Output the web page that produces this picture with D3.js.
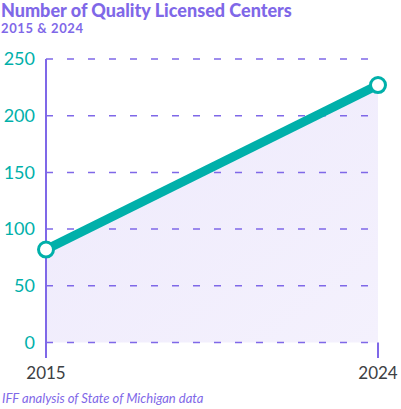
<!DOCTYPE html>
<html><head><meta charset="utf-8">
<script src="https://cdn.jsdelivr.net/npm/d3@7"></script>
<style>body{margin:0;background:#fff;}svg{display:block;}</style>
</head><body>
<script>
const years = [2015, 2024];
const centers = [82, 227];
const yTicks = [0, 50, 100, 150, 200, 250];
const title = "Number of Quality Licensed Centers";
const subtitle = "2015 & 2024";
const source = "IFF analysis of State of Michigan data";

const W = 401, H = 409;
const purple = "#7f68e8", teal = "#00b0aa";
const svg = d3.select("body").append("svg").attr("width", W).attr("height", H);

const x = d3.scaleLinear().domain([2015, 2024]).range([46, 378]);
const y = d3.scaleLinear().domain([0, 250]).range([342.5, 59]);

const defs = svg.append("defs");
const g = defs.append("linearGradient").attr("id","fillg").attr("x1","0").attr("y1","0").attr("x2","1").attr("y2","1");
g.append("stop").attr("offset","0").attr("stop-color","#eeeafc");
g.append("stop").attr("offset","1").attr("stop-color","#f4f1fd");

const data = years.map((yr,i)=>({yr, v:centers[i]}));

svg.append("path").datum(data)
  .attr("d", d3.area().x(d=>x(d.yr)).y0(y(0)).y1(d=>y(d.v)))
  .attr("fill","url(#fillg)");

// grid
svg.append("g").selectAll("line").data(yTicks).join("line")
  .attr("x1", 46).attr("x2", 378)
  .attr("y1", d=>y(d)).attr("y2", d=>y(d))
  .attr("stroke", purple).attr("stroke-width", 1.5)
  .attr("stroke-dasharray","7,14");

// axis lines
svg.append("line").attr("x1",46).attr("x2",46).attr("y1",y(250)).attr("y2",358)
  .attr("stroke",purple).attr("stroke-width",2);
svg.append("line").attr("x1",378).attr("x2",378).attr("y1",y(0)).attr("y2",358)
  .attr("stroke",purple).attr("stroke-width",2);

// y labels
svg.append("g").selectAll("text").data(yTicks).join("text")
  .attr("x", 35).attr("y", d=>y(d)).attr("dy","0.35em")
  .attr("text-anchor","end").attr("fill", teal)
  .attr("font-family","Lato, sans-serif").attr("font-size",18)
  .text(d=>d);

// x labels
svg.append("g").selectAll("text").data(years).join("text")
  .attr("x", d=>x(d)).attr("y", 379)
  .attr("text-anchor","middle").attr("fill","#3d4043")
  .attr("font-family","Lato, sans-serif").attr("font-size",17)
  .text(d=>d);

// line
svg.append("path").datum(data)
  .attr("d", d3.line().x(d=>x(d.yr)).y(d=>y(d.v)))
  .attr("fill","none").attr("stroke",teal).attr("stroke-width",9);

svg.append("g").selectAll("circle").data(data).join("circle")
  .attr("cx", d=>x(d.yr)).attr("cy", d=>y(d.v)).attr("r", 7.5)
  .attr("fill","#fff").attr("stroke",teal).attr("stroke-width",3);

svg.append("text").attr("x",1).attr("y",16.5).attr("fill",purple)
  .attr("font-family","Lato, sans-serif").attr("font-weight",900).attr("font-size",18)
  .text(title);
svg.append("text").attr("x",1).attr("y",33).attr("fill",purple)
  .attr("font-family","Lato, sans-serif").attr("font-weight",700).attr("font-size",13)
  .attr("letter-spacing",0.6)
  .text(subtitle);
svg.append("text").attr("x",2).attr("y",403).attr("fill",purple)
  .attr("font-family","Lato, sans-serif").attr("font-style","italic").attr("font-size",13)
  .text(source);
</script>
</body></html>
